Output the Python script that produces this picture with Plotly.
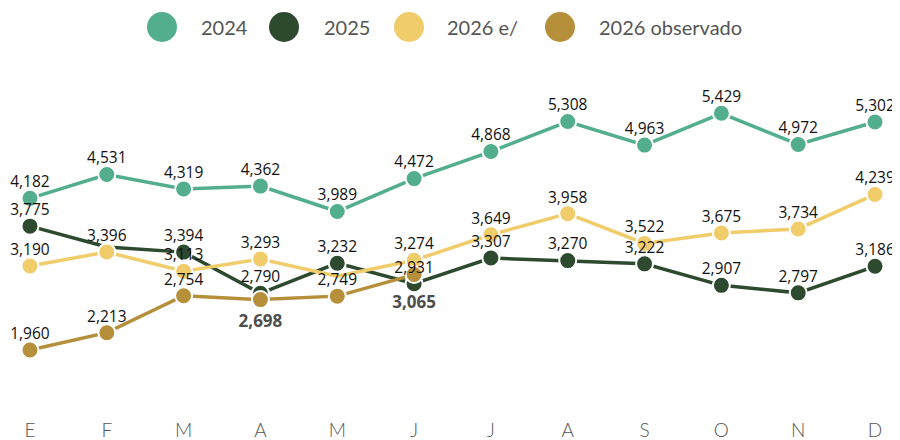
import plotly.graph_objects as go

months = ["E", "F", "M", "A", "M", "J", "J", "A", "S", "O", "N", "D"]
x = list(range(len(months)))

v2024 = [4182, 4531, 4319, 4362, 3989, 4472, 4868, 5308, 4963, 5429, 4972, 5302]
v2025 = [3775, 3470, 3394, 2790, 3232, 2931, 3307, 3270, 3222, 2907, 2797, 3186]
v2026e = [3190, 3396, 3113, 3293, 3040, 3274, 3649, 3958, 3522, 3675, 3734, 4239]
v2026obs = [1960, 2213, 2754, 2698, 2749, 3065]

# points drawn without marker / label in the reference
hidden2025 = [1]
hidden2026e = [4]
# observado labels drawn below in grey bold
below_obs = [3, 5]

names = ["2024", "2025", "2026 e/", "2026 observado"]
colors = ["#52AE8C", "#2D4A2F", "#F0CC6B", "#B58F3A"]
series = [v2024, v2025, v2026e, v2026obs]
hidden = [[], hidden2025, hidden2026e, []]

MS = 17
fig = go.Figure()

# lines + markers
for name, col, vals, hid in zip(names, colors, series, hidden):
    n = len(vals)
    sizes = [0 if i in hid else MS for i in range(n)]
    lw = [0 if i in hid else 2 for i in range(n)]
    fig.add_trace(go.Scatter(
        x=x[:n], y=vals, mode="lines+markers", name=name,
        line=dict(color=col, width=3.5),
        marker=dict(color=col, size=sizes, opacity=1,
                    line=dict(color="white", width=lw)),
        hoverinfo="x+y", showlegend=False, cliponaxis=False,
    ))

lab_font = dict(family="Open Sans, sans-serif", size=15.5, color="#111111")

# data labels (on top of all markers)
for name, col, vals, hid in zip(names, colors, series, hidden):
    n = len(vals)
    txt = []
    for i, v in enumerate(vals):
        if i in hid or (name == "2026 observado" and i in below_obs):
            txt.append("")
        else:
            txt.append(f"{v:,}")
    fig.add_trace(go.Scatter(
        x=x[:n], y=vals, mode="markers+text", text=txt,
        textposition="top center", textfont=lab_font,
        marker=dict(size=10, opacity=0),
        hoverinfo="skip", showlegend=False, cliponaxis=False,
    ))

# grey bold labels below observado points
txt_b = [f"{v:,}" if i in below_obs else "" for i, v in enumerate(v2026obs)]
sz_b = [32 if i == 5 else 22 for i in range(len(v2026obs))]
fig.add_trace(go.Scatter(
    x=x[:len(v2026obs)], y=v2026obs, mode="markers+text", text=txt_b,
    textposition="bottom center",
    textfont=dict(family="Open Sans, sans-serif", size=17, color="#4D4D4D", weight="bold"),
    marker=dict(size=sz_b, opacity=0),
    hoverinfo="skip", showlegend=False, cliponaxis=False,
))

# page has an 8px body margin: figure coordinates = page pixels - 8
W, H = 892, 432
PT, PB = 52, 402  # plot top / bottom in figure pixels
leg_cx = [154, 276, 401, 552]
leg_tx = [191, 314, 437, 589]
shapes = []
annotations = []
ly = (PB - 19) / (PB - PT)
for name, col, cx, tx in zip(names, colors, leg_cx, leg_tx):
    shapes.append(dict(type="circle", xref="paper", yref="paper",
                       xsizemode="pixel", ysizemode="pixel",
                       xanchor=cx / W, yanchor=ly,
                       x0=-15, x1=15, y0=-15, y1=15,
                       fillcolor=col, line=dict(width=0)))
    annotations.append(dict(text=name, xref="paper", yref="paper",
                            x=tx / W, y=ly, xanchor="left", yanchor="middle",
                            showarrow=False,
                            font=dict(family="Lato, sans-serif", size=20, color="#555555")))

fig.update_layout(
    width=W, height=H,
    margin=dict(l=0, r=0, t=PT, b=H - PB),
    paper_bgcolor="white", plot_bgcolor="white",
    shapes=shapes, annotations=annotations,
    xaxis=dict(range=[-0.286, 11.325], tickmode="array", tickvals=x, ticktext=months,
               showgrid=False, zeroline=False, showline=False, ticks="",
               tickfont=dict(family="Lato, sans-serif", size=19, color="#555555", weight=300),
               ticklabelstandoff=7, fixedrange=True),
    yaxis=dict(range=[1080, 6210], visible=False, showgrid=False, zeroline=False,
               fixedrange=True),
    showlegend=False,
)

fig.write_html("out.html")
